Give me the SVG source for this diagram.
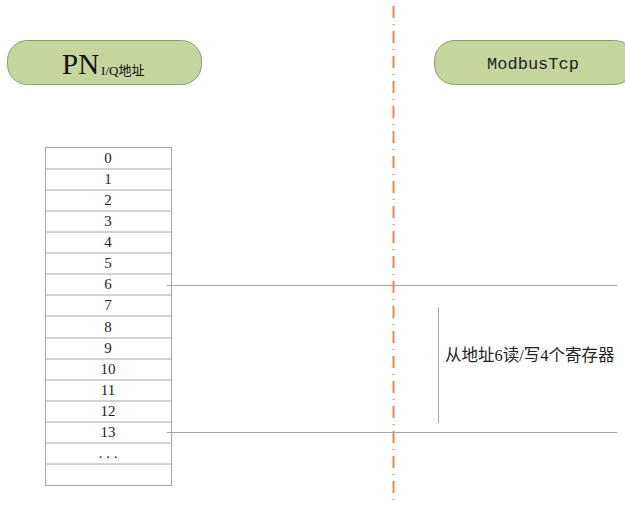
<svg xmlns="http://www.w3.org/2000/svg" width="625" height="506" viewBox="0 0 625 506">
<style>
.box{fill:#c4d69c;stroke:#8e9b78;stroke-width:1}
.cell{fill:#fff;stroke:#a6a6a6;stroke-width:1}
.num{font-family:"Liberation Serif","DejaVu Serif",serif;font-size:15px;fill:#222;text-anchor:middle}
.ln{stroke:#a6a6a6;stroke-width:1;fill:none}
</style>
<rect width="625" height="506" fill="#fff"/>
<g id="divider">
<line x1="393.5" y1="6" x2="393.5" y2="506" stroke="#e8894a" stroke-width="2" stroke-dasharray="12,6,1,6"/>
</g>
<g id="pn">
<rect class="box" x="7.5" y="40.5" width="194" height="44" rx="20"/>
<text x="62" y="74" font-family="Liberation Serif,serif" font-size="29" fill="#111">PN<tspan font-size="13" dy="1" dx="2" font-family="Liberation Serif,Noto Sans CJK SC,serif">I/Q地址</tspan></text>
</g>
<g id="modbus">
<rect class="box" x="434.5" y="40.5" width="200" height="44" rx="20"/>
<text x="533" y="69" font-family="Liberation Mono,monospace" font-size="17" fill="#222" text-anchor="middle">ModbusTcp</text>
</g>
<g id="table">
<rect class="cell" x="45.5" y="147.5" width="126" height="338"/>
<path class="ln" d="M45.5 169h126M45.5 190h126M45.5 211h126M45.5 232h126M45.5 253h126M45.5 274h126M45.5 295h126M45.5 316h126M45.5 338h126M45.5 359h126M45.5 380h126M45.5 401h126M45.5 422h126M45.5 443h126M45.5 464h126"/>
<text class="num" x="108" y="163">0</text>
<text class="num" x="108" y="184">1</text>
<text class="num" x="108" y="205">2</text>
<text class="num" x="108" y="226">3</text>
<text class="num" x="108" y="247">4</text>
<text class="num" x="108" y="268">5</text>
<text class="num" x="108" y="289">6</text>
<text class="num" x="108" y="310">7</text>
<text class="num" x="108" y="332">8</text>
<text class="num" x="108" y="353">9</text>
<text class="num" x="108" y="374">10</text>
<text class="num" x="108" y="395">11</text>
<text class="num" x="108" y="416">12</text>
<text class="num" x="108" y="437">13</text>
<text class="num" x="108" y="458">. . .</text>
</g>
<g id="connectors">
<line class="ln" x1="167" y1="285.5" x2="617" y2="285.5"/>
<line class="ln" x1="167" y1="432.5" x2="617" y2="432.5"/>
<line class="ln" x1="438.5" y1="307" x2="438.5" y2="423"/>
</g>
<g id="label">
<text x="445" y="361" font-family="Liberation Serif,Noto Sans CJK SC,sans-serif" font-size="16.5" fill="#222">从地址6读/写4个寄存器</text>
</g>
</svg>
